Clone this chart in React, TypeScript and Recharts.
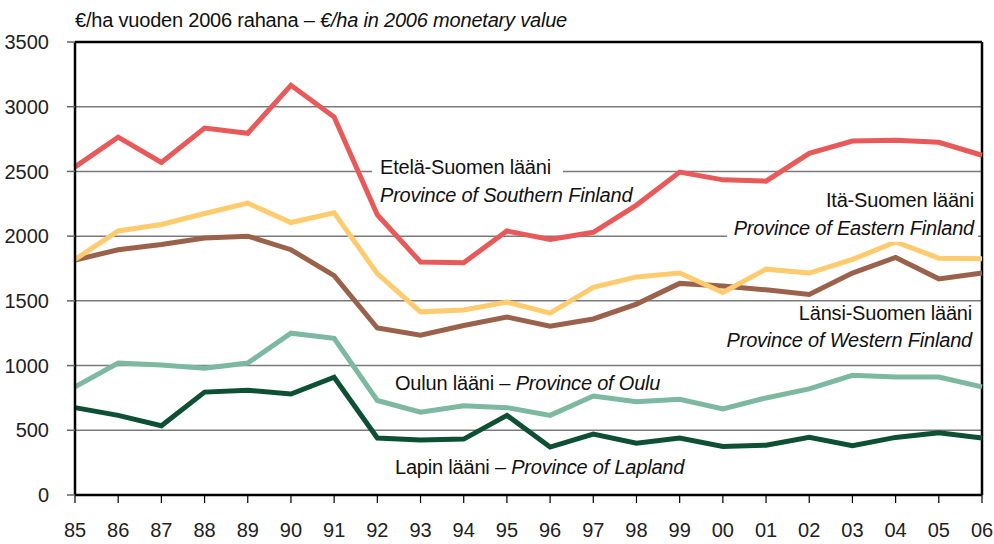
import React from 'react';
import { LineChart, Line, XAxis, YAxis, CartesianGrid, ReferenceLine } from 'recharts';

const years = ['85', '86', '87', '88', '89', '90', '91', '92', '93', '94', '95', '96', '97', '98', '99', '00', '01', '02', '03', '04', '05', '06'];
const southern = [2535, 2765, 2570, 2835, 2795, 3165, 2920, 2165, 1800, 1795, 2040, 1975, 2030, 2240, 2495, 2435, 2425, 2640, 2735, 2740, 2725, 2625];
const eastern = [1820, 2040, 2090, 2175, 2255, 2105, 2180, 1710, 1415, 1430, 1490, 1405, 1605, 1685, 1715, 1565, 1745, 1715, 1820, 1955, 1830, 1825];
const western = [1815, 1895, 1935, 1985, 2000, 1895, 1695, 1290, 1235, 1310, 1375, 1305, 1360, 1475, 1635, 1615, 1585, 1550, 1715, 1835, 1670, 1715];
const oulu = [835, 1020, 1005, 980, 1020, 1250, 1210, 730, 640, 690, 675, 615, 765, 720, 740, 665, 750, 820, 925, 912, 912, 835];
const lapland = [675, 615, 535, 795, 810, 780, 910, 440, 425, 432, 615, 370, 470, 400, 440, 375, 385, 445, 380, 445, 480, 440];
const yTicks = [0, 500, 1000, 1500, 2000, 2500, 3000, 3500];

const data = years.map((y, i) => ({
  year: y,
  southern: southern[i],
  eastern: eastern[i],
  western: western[i],
  oulu: oulu[i],
  lapland: lapland[i],
}));

const FONT = '"Liberation Sans", Arial, sans-serif';

const labelBase: React.CSSProperties = {
  position: 'absolute',
  fontFamily: FONT,
  fontSize: 20,
  lineHeight: '28px',
  color: '#111',
  whiteSpace: 'nowrap',
  letterSpacing: '-0.2px',
};

export default function App() {
  return (
    <div style={{ position: 'absolute', left: 0, top: 0, width: 994, height: 544, background: '#fff' }}>
      <LineChart
        width={994}
        height={544}
        data={data}
        margin={{ top: 42, right: 12, bottom: 0, left: 0 }}
      >
        <CartesianGrid vertical={false} stroke="#7a7a7a" strokeWidth={1.5} />
        <XAxis
          dataKey="year"
          height={49}
          axisLine={{ stroke: '#000', strokeWidth: 2.5 }}
          tickLine={{ stroke: '#000', strokeWidth: 1.2 }}
          tickSize={8}
          tickMargin={20}
          interval={0}
          tick={{ fontFamily: FONT, fontSize: 20, fill: '#222' }}
        />
        <YAxis
          width={75}
          domain={[0, 3500]}
          ticks={yTicks}
          axisLine={{ stroke: '#000', strokeWidth: 2.5 }}
          tickLine={{ stroke: '#666', strokeWidth: 1.5 }}
          tickSize={8}
          tickMargin={18}
          tick={{ fontFamily: FONT, fontSize: 20, fill: '#222' }}
        />
        <ReferenceLine y={3500} stroke="#000" strokeWidth={2.5} />
        <ReferenceLine x="06" stroke="#000" strokeWidth={2.5} />
        <Line dataKey="lapland" stroke="#0E5034" strokeWidth={5} dot={false} isAnimationActive={false} />
        <Line dataKey="oulu" stroke="#7DB8A0" strokeWidth={5} dot={false} isAnimationActive={false} />
        <Line dataKey="western" stroke="#9B624B" strokeWidth={5} dot={false} isAnimationActive={false} />
        <Line dataKey="eastern" stroke="#FFCB6F" strokeWidth={5} dot={false} isAnimationActive={false} />
        <Line dataKey="southern" stroke="#E85A59" strokeWidth={5} dot={false} isAnimationActive={false} />
      </LineChart>

      <div style={{ ...labelBase, left: 75, top: 6 }}>
        €/ha vuoden 2006 rahana – <i>€/ha in 2006 monetary value</i>
      </div>

      <div style={{ ...labelBase, left: 372, top: 153, background: '#fff', paddingLeft: 8, paddingRight: 12 }}>
        Etelä-Suomen lääni
      </div>
      <div style={{ ...labelBase, left: 380, top: 181 }}>
        <i>Province of Southern Finland</i>
      </div>

      <div style={{ ...labelBase, right: 20, top: 186, textAlign: 'right' }}>
        Itä-Suomen lääni
      </div>
      <div style={{ ...labelBase, right: 16, top: 214, background: '#fff', paddingLeft: 7, paddingRight: 4 }}>
        <i>Province of Eastern Finland</i>
      </div>

      <div style={{ ...labelBase, right: 22, top: 299, textAlign: 'right' }}>
        Länsi-Suomen lääni
      </div>
      <div style={{ ...labelBase, right: 22, top: 326, textAlign: 'right' }}>
        <i>Province of Western Finland</i>
      </div>

      <div style={{ ...labelBase, left: 395, top: 369 }}>
        Oulun lääni – <i>Province of Oulu</i>
      </div>
      <div style={{ ...labelBase, left: 395, top: 453 }}>
        Lapin lääni – <i>Province of Lapland</i>
      </div>
    </div>
  );
}
